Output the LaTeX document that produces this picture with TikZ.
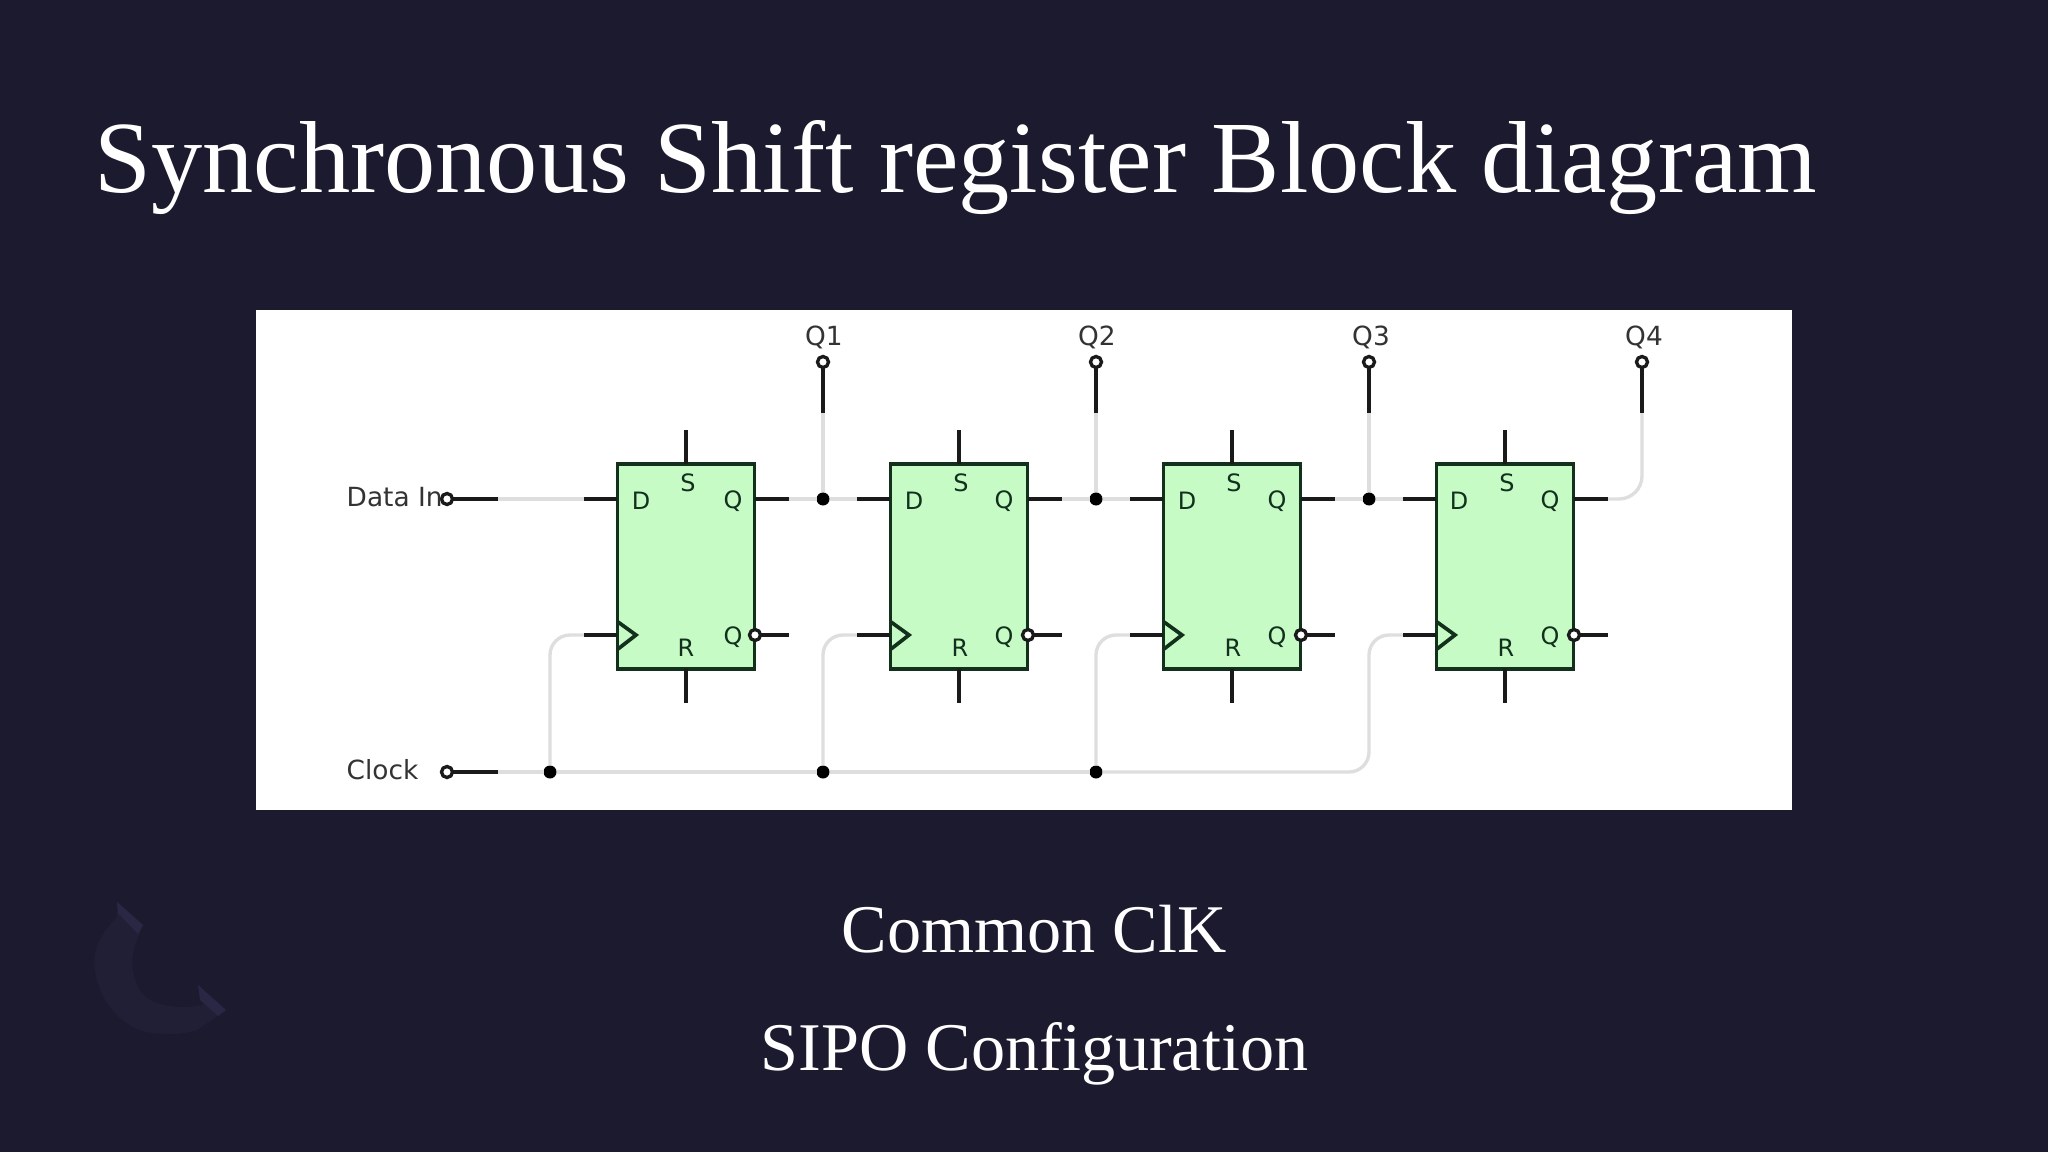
\documentclass[tikz,border=0pt]{standalone}
\usepackage{fontspec}
\setmainfont{Liberation Serif}
\setsansfont{DejaVu Sans}
\usepackage{xcolor}
\definecolor{slidebg}{HTML}{1C1A2E}
\definecolor{ffgreen}{HTML}{C6FBC6}
\definecolor{ffdark}{HTML}{12301C}
\definecolor{wirefaint}{HTML}{DEDEDE}
\definecolor{wireblack}{HTML}{1A1A1A}
\definecolor{logobody}{HTML}{201F35}
\definecolor{logoedge}{HTML}{2A2745}
\tikzset{
    ffbox/.style={rectangle,draw=ffdark,fill=ffgreen,line width=0.95pt,inner sep=0pt,outer sep=0pt,minimum width=1.37cm,minimum height=2.05cm},
    fflabel/.style={inner sep=0pt,text=ffdark,font=\sffamily\fontsize{6.8}{7}\selectfont},
    pinlabel/.style={inner sep=0pt,text=black!80,font=\sffamily\fontsize{7.5}{8}\selectfont},
    wire/.style={draw=wireblack,line width=1.05pt},
    faint/.style={draw=wirefaint,line width=0.95pt},
    term/.style={circle,draw=wireblack,fill=white,line width=0.95pt,inner sep=0pt,outer sep=0pt,minimum size=0.11cm},
    junction/.style={circle,fill=black,inner sep=0pt,outer sep=0pt,minimum size=0.13cm},
    slidetext/.style={inner sep=0pt,text=white,anchor=base west}
}
\begin{document}
\begin{tikzpicture}[x=0.01cm,y=-0.01cm]
    \useasboundingbox (0,0) rectangle (2048,1152);
    \fill[slidebg] (0,0) rectangle (2048,1152);
    % faint logo
    \fill[logobody] (117,917) .. controls (100,935) and (92,950) .. (95,970) .. controls (100,1005) and (125,1030) .. (153,1033) .. controls (170,1035) and (185,1034) .. (197,1030) -- (226,1010) -- (198,985) -- (212,1002) .. controls (195,1008) and (170,1010) .. (150,1000) .. controls (135,992) and (128,965) .. (135,945) -- (143,925) -- (117,902) -- cycle;
    \fill[logoedge] (117,902) -- (143,925) -- (138,934) -- (118,913) -- cycle;
    \fill[logoedge] (198,985) -- (226,1010) -- (218,1016) -- (200,1000) -- cycle;
    % texts
    \node[slidetext,font=\fontsize{29.1}{32}\selectfont] (title) at (94,193) {Synchronous Shift register Block diagram};
    \node[slidetext,font=\fontsize{19.4}{22}\selectfont] (clkline) at (841,952) {Common ClK};
    \node[slidetext,font=\fontsize{19.4}{22}\selectfont] (sipoline) at (760,1070) {SIPO Configuration};
    % white panel
    \fill[white] (256,310) rectangle (1792,810);
    % flip flops
    \node[ffbox] (ff1) at (686,566.5) {};
    \node[ffbox] (ff2) at (959,566.5) {};
    \node[ffbox] (ff3) at (1232,566.5) {};
    \node[ffbox] (ff4) at (1505,566.5) {};
    % stub ends
    \coordinate (din1) at (584,499); \coordinate (clk1) at (584,635); \coordinate (qo1) at (789,499); \coordinate (nq1) at (789,635);
    \coordinate (din2) at (857,499); \coordinate (clk2) at (857,635); \coordinate (qo2) at (1062,499); \coordinate (nq2) at (1062,635);
    \coordinate (din3) at (1130,499); \coordinate (clk3) at (1130,635); \coordinate (qo3) at (1335,499); \coordinate (nq3) at (1335,635);
    \coordinate (din4) at (1403,499); \coordinate (clk4) at (1403,635); \coordinate (qo4) at (1608,499); \coordinate (nq4) at (1608,635);
    \coordinate (set1) at (686,430); \coordinate (rst1) at (686,703);
    \coordinate (set2) at (959,430); \coordinate (rst2) at (959,703);
    \coordinate (set3) at (1232,430); \coordinate (rst3) at (1232,703);
    \coordinate (set4) at (1505,430); \coordinate (rst4) at (1505,703);
    % inverted outputs
    \node[term] (nb1) at (755,635) {};
    \node[term] (nb2) at (1028,635) {};
    \node[term] (nb3) at (1301,635) {};
    \node[term] (nb4) at (1574,635) {};
    % terminals
    \node[term] (tdata) at (447,499) {};
    \node[term] (tclk) at (447,772) {};
    \node[term] (tq1) at (823,362) {};
    \node[term] (tq2) at (1096,362) {};
    \node[term] (tq3) at (1369,362) {};
    \node[term] (tq4) at (1642,362) {};
    \coordinate (dend) at (498,499);
    \coordinate (cend) at (498,772);
    \coordinate (qe1) at (823,413);
    \coordinate (qe2) at (1096,413);
    \coordinate (qe3) at (1369,413);
    \coordinate (qe4) at (1642,413);
    \coordinate (bend) at (1369,700);
    % junctions
    \node[junction] (jd1) at (823,499) {};
    \node[junction] (jd2) at (1096,499) {};
    \node[junction] (jd3) at (1369,499) {};
    \node[junction] (jc1) at (550,772) {};
    \node[junction] (jc2) at (823,772) {};
    \node[junction] (jc3) at (1096,772) {};
    % faint wires
    \draw[faint] (dend) -- (din1);
    \draw[faint] (qo1) -- (jd1);
    \draw[faint] (jd1) -- (din2);
    \draw[faint] (qo2) -- (jd2);
    \draw[faint] (jd2) -- (din3);
    \draw[faint] (qo3) -- (jd3);
    \draw[faint] (jd3) -- (din4);
    \draw[faint] (jd1) -- (qe1);
    \draw[faint] (jd2) -- (qe2);
    \draw[faint] (jd3) -- (qe3);
    \draw[faint,rounded corners=0.23cm] (qo4) -| (qe4);
    \draw[faint] (cend) -- (jc1);
    \draw[faint] (jc1) -- (jc2);
    \draw[faint] (jc2) -- (jc3);
    \draw[faint,rounded corners=0.2cm] (jc1) |- (clk1);
    \draw[faint,rounded corners=0.2cm] (jc2) |- (clk2);
    \draw[faint,rounded corners=0.2cm] (jc3) |- (clk3);
    \draw[faint,rounded corners=0.2cm] (jc3) -| (bend) |- (clk4);
    % black wires
    \draw[wire] (tdata) -- (dend);
    \draw[wire] (tclk) -- (cend);
    \draw[wire] (tq1) -- (qe1);
    \draw[wire] (tq2) -- (qe2);
    \draw[wire] (tq3) -- (qe3);
    \draw[wire] (tq4) -- (qe4);
    \draw[wire] (din1) -- (ff1.west |- din1) (clk1) -- (ff1.west |- clk1) (ff1.east |- qo1) -- (qo1) (nb1) -- (nq1) (ff1.north) -- (set1) (ff1.south) -- (rst1);
    \draw[wire] (din2) -- (ff2.west |- din2) (clk2) -- (ff2.west |- clk2) (ff2.east |- qo2) -- (qo2) (nb2) -- (nq2) (ff2.north) -- (set2) (ff2.south) -- (rst2);
    \draw[wire] (din3) -- (ff3.west |- din3) (clk3) -- (ff3.west |- clk3) (ff3.east |- qo3) -- (qo3) (nb3) -- (nq3) (ff3.north) -- (set3) (ff3.south) -- (rst3);
    \draw[wire] (din4) -- (ff4.west |- din4) (clk4) -- (ff4.west |- clk4) (ff4.east |- qo4) -- (qo4) (nb4) -- (nq4) (ff4.north) -- (set4) (ff4.south) -- (rst4);
    % clock triangles
    \draw[wire,draw=ffdark] (618,622) -- (636,635) -- (618,649);
    \draw[wire,draw=ffdark] (891,622) -- (909,635) -- (891,649);
    \draw[wire,draw=ffdark] (1164,622) -- (1182,635) -- (1164,649);
    \draw[wire,draw=ffdark] (1437,622) -- (1455,635) -- (1437,649);
    % box letters
    \node[fflabel] (d1) at (641,501) {D};  \node[fflabel] (s1) at (688,483) {S};  \node[fflabel] (q1) at (733,501) {Q};  \node[fflabel] (r1) at (686,648) {R};  \node[fflabel] (nq1l) at (733,637) {Q};
    \node[fflabel] (d2) at (914,501) {D};  \node[fflabel] (s2) at (961,483) {S};  \node[fflabel] (q2) at (1004,501) {Q};  \node[fflabel] (r2) at (960,648) {R};  \node[fflabel] (nq2l) at (1004,637) {Q};
    \node[fflabel] (d3) at (1187,501) {D};  \node[fflabel] (s3) at (1234,483) {S};  \node[fflabel] (q3) at (1277,501) {Q};  \node[fflabel] (r3) at (1233,648) {R};  \node[fflabel] (nq3l) at (1277,637) {Q};
    \node[fflabel] (d4) at (1459,501) {D};  \node[fflabel] (s4) at (1507,483) {S};  \node[fflabel] (q4) at (1550,501) {Q};  \node[fflabel] (r4) at (1506,648) {R};  \node[fflabel] (nq4l) at (1550,637) {Q};
    % pin names
    \node[pinlabel,anchor=west] (ldata) at (346,497) {Data In};
    \node[pinlabel,anchor=west] (lclk) at (346,770) {Clock};
    \node[pinlabel] (lq1) at (824,337) {Q1};
    \node[pinlabel] (lq2) at (1097,337) {Q2};
    \node[pinlabel] (lq3) at (1371,337) {Q3};
    \node[pinlabel] (lq4) at (1644,337) {Q4};
\end{tikzpicture}
\end{document}
